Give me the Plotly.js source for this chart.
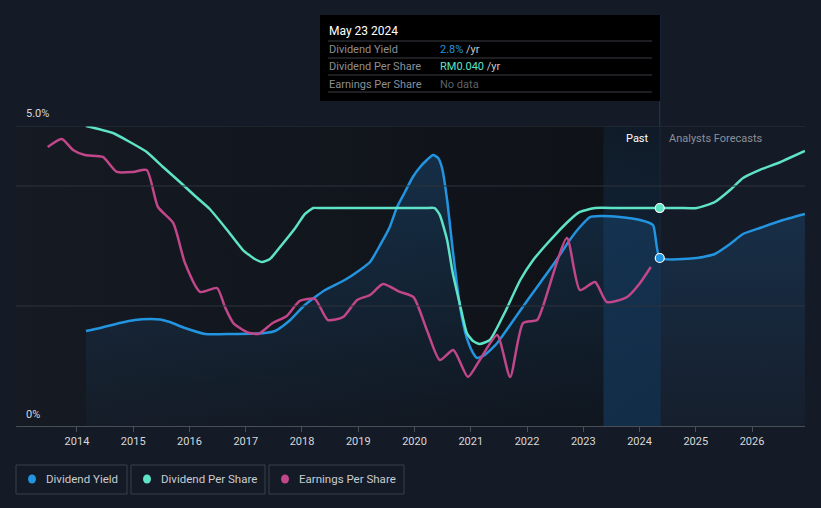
<!DOCTYPE html>
<html>
<head>
<meta charset="utf-8">
<script src="https://cdn.plot.ly/plotly-3.0.1.min.js"></script>
<style>
html,body{margin:0;padding:0;background:#151b26;}
#chart{width:821px;height:508px;}
</style>
</head>
<body>
<div id="chart"></div>
<script>
// ---- data ----
var yieldYears = [2014.16,2014.41,2014.76,2015.03,2015.30,2015.48,2015.65,2015.92,2016.28,2016.72,2017.34,2017.52,2017.66,2017.79,2018.05,2018.41,2018.76,2019.03,2019.21,2019.39,2019.56,2019.69,2019.83,2019.97,2020.10,2020.22,2020.33,2020.42,2020.49,2020.58,2020.68,2020.81,2020.93,2021.04,2021.11,2021.25,2021.47,2021.70,2022.05,2022.50,2022.76,2022.94,2023.12,2023.30,2023.65,2024.01,2024.24,2024.36,2025.02,2025.34,2025.61,2025.84,2026.14,2026.50,2026.94];
var yieldPct   = [1.583,1.633,1.717,1.767,1.783,1.775,1.733,1.633,1.533,1.533,1.55,1.583,1.667,1.767,2.017,2.267,2.433,2.6,2.733,3.017,3.317,3.65,3.9,4.15,4.317,4.433,4.517,4.467,4.3,3.767,2.933,1.983,1.467,1.217,1.133,1.183,1.383,1.683,2.15,2.733,3.1,3.317,3.483,3.5,3.483,3.433,3.35,2.8,2.8,2.867,3.033,3.2,3.3,3.417,3.533];

var dpsYears = [2014.16,2014.64,2014.94,2015.24,2015.53,2015.83,2016.10,2016.36,2016.67,2016.95,2017.16,2017.29,2017.43,2017.61,2017.88,2018.05,2018.20,2018.32,2019.0,2019.7,2020.2,2020.36,2020.45,2020.58,2020.68,2020.81,2020.93,2021.04,2021.16,2021.34,2021.61,2021.88,2022.11,2022.32,2022.53,2022.76,2022.94,2023.21,2023.6,2024.0,2024.36,2024.7,2025.02,2025.34,2025.61,2025.84,2026.14,2026.50,2026.94];
var dpsRM    = [0.05505,0.05376,0.05211,0.05028,0.04752,0.04477,0.04220,0.03982,0.03596,0.03229,0.03064,0.03009,0.03064,0.03284,0.03633,0.03890,0.04,0.04,0.04,0.04,0.04,0.04,0.03872,0.03413,0.02807,0.02220,0.01706,0.01560,0.01505,0.01578,0.02092,0.02679,0.03046,0.03303,0.03541,0.03780,0.03927,0.04,0.04,0.04,0.04,0.04,0.04,0.0411,0.0433,0.0455,0.0470,0.0484,0.05046];

var epsYears = [2013.48,2013.73,2013.93,2014.14,2014.46,2014.71,2015.0,2015.24,2015.44,2015.71,2015.92,2016.19,2016.49,2016.63,2016.78,2017.02,2017.22,2017.48,2017.73,2017.96,2018.23,2018.46,2018.73,2018.98,2019.21,2019.44,2019.74,2019.98,2020.22,2020.45,2020.69,2020.95,2021.16,2021.47,2021.70,2021.93,2022.18,2022.28,2022.71,2022.94,2023.21,2023.42,2023.78,2024.01,2024.2];
var epsRM    = [0.2325,0.2392,0.2300,0.2258,0.2242,0.2117,0.2117,0.2133,0.1825,0.1692,0.1358,0.1117,0.1150,0.0992,0.0858,0.0783,0.0767,0.0858,0.0917,0.1042,0.1058,0.0883,0.0908,0.1050,0.1092,0.1183,0.1117,0.1075,0.0800,0.0550,0.0633,0.0408,0.0550,0.0758,0.0408,0.0858,0.0883,0.0992,0.1567,0.1133,0.1200,0.1033,0.1075,0.1192,0.1325];

var yearTicks = [2014,2015,2016,2017,2018,2019,2020,2021,2022,2023,2024,2025,2026];
var tickLabels = ["2014","2015","2016","2017","2018","2019","2020","2021","2022","2023","2024","2025","2026"];

var hoverYear = 2024.36;
var hoverDate = "May 23 2024";
var hoverYield = "2.8%";
var hoverDps = "RM0.040";
var bandStart = 2023.36;

var seriesNames = ["Dividend Yield","Dividend Per Share","Earnings Per Share"];
var seriesColors = ["#2394df","#5ee3c6","#c2468a"];

// ---- geometry helpers ----
var X0 = 2012.916, X1 = 2026.942;
var PL = 16, PR = 805, PT = 126, PB = 426;
function px(x){ return (x - PL) / (PR - PL); }
function py(y){ return (PB - y) / (PB - PT); }

var traces = [];
traces.push({
  x:[X0,hoverYear,hoverYear,X0,X0], y:[0,0,5,5,0], xaxis:'x', yaxis:'y',
  mode:'lines', fill:'toself', line:{width:0,color:'rgba(0,0,0,0)'},
  fillcolor:'#11151c',
  fillgradient:{type:'horizontal', colorscale:[[0,'#151a23'],[1,'#0e1116']]},
  hoverinfo:'skip', showlegend:false
});
traces.push({
  x:[bandStart,hoverYear,hoverYear,bandStart,bandStart], y:[0,0,5,5,0], xaxis:'x', yaxis:'y',
  mode:'lines', fill:'toself', line:{width:0,color:'rgba(0,0,0,0)'},
  fillcolor:'rgba(30,110,180,0.2)',
  fillgradient:{type:'vertical', colorscale:[[0,'rgba(25,100,170,0.30)'],[1,'rgba(25,100,170,0.12)']]},
  hoverinfo:'skip', showlegend:false
});
traces.push({
  x:yieldYears, y:yieldPct, xaxis:'x', yaxis:'y', name:seriesNames[0],
  mode:'lines', line:{color:seriesColors[0], width:2.5, shape:'spline', smoothing:0.5},
  fill:'tozeroy', fillcolor:'rgba(35,148,223,0.12)',
  fillgradient:{type:'vertical', colorscale:[[0,'rgba(35,120,200,0.04)'],[1,'rgba(35,130,210,0.24)']]},
  hoverinfo:'skip', showlegend:false
});
traces.push({
  x:dpsYears, y:dpsRM, xaxis:'x', yaxis:'y2', name:seriesNames[1],
  mode:'lines', line:{color:seriesColors[1], width:2.5, shape:'spline', smoothing:0.5},
  hoverinfo:'skip', showlegend:false
});
traces.push({
  x:epsYears, y:epsRM, xaxis:'x', yaxis:'y3', name:seriesNames[2],
  mode:'lines', line:{color:seriesColors[2], width:2.5, shape:'spline', smoothing:0.6},
  hoverinfo:'skip', showlegend:false
});
traces.push({
  x:[hoverYear], y:[dpsRM[dpsYears.indexOf(hoverYear)]], xaxis:'x', yaxis:'y2',
  mode:'markers', marker:{size:9, color:seriesColors[1], line:{color:'#ffffff', width:1.2}},
  hoverinfo:'skip', showlegend:false
});
traces.push({
  x:[hoverYear], y:[yieldPct[yieldYears.indexOf(hoverYear)]], xaxis:'x', yaxis:'y',
  mode:'markers', marker:{size:9, color:seriesColors[0], line:{color:'#ffffff', width:1.2}},
  hoverinfo:'skip', showlegend:false
});

var shapes = [];
[5,4,2].forEach(function(v){
  shapes.push({type:'line', xref:'paper', yref:'y', x0:0, x1:1, y0:v, y1:v, line:{color:'#2e333c', width:1}, layer:'above'});
});
shapes.push({type:'line', xref:'x', yref:'paper', x0:hoverYear, x1:hoverYear, y0:0, y1:py(15), line:{color:'#1f3b57', width:1}, layer:'below'});
shapes.push({type:'rect', xref:'paper', yref:'paper', x0:px(320), x1:px(660), y0:py(101), y1:py(15), fillcolor:'#000000', line:{width:0}, layer:'above'});
[41,58,75,92].forEach(function(yy){
  shapes.push({type:'line', xref:'paper', yref:'paper', x0:px(328), x1:px(652), y0:py(yy), y1:py(yy), line:{color:'#3a3d42', width:1}, layer:'above'});
});
var legBoxes = [[16,127],[131,265],[269,404]];
legBoxes.forEach(function(b,i){
  shapes.push({type:'rect', xref:'paper', yref:'paper', x0:px(b[0]), x1:px(b[1]), y0:py(494), y1:py(465), fillcolor:'rgba(0,0,0,0)', line:{color:'#3b4049', width:1}, layer:'above'});
  shapes.push({type:'circle', xref:'paper', yref:'paper', x0:px(b[0]+12), x1:px(b[0]+20), y0:py(483.5), y1:py(474.5), fillcolor:seriesColors[i], line:{width:0}, layer:'above'});
});

var annotations = [];
function ann(text, x, y, opts){
  var a = {text:text, xref:'paper', yref:'paper', x:px(x), y:py(y), showarrow:false, xanchor:'left', yanchor:'middle',
    font:{family:'Roboto, sans-serif', size:11, color:'#d6d8db'}};
  for (var k in opts){ a[k]=opts[k]; }
  return a;
}
annotations.push(ann('5.0%', 24, 114, {}));
annotations.push(ann('0%', 24, 414, {}));
annotations.push(ann('Past', 651, 138, {xanchor:'right', font:{family:'Roboto, sans-serif', size:11, color:'#ffffff'}}));
annotations.push(ann('Analysts Forecasts', 667, 138, {font:{family:'Roboto, sans-serif', size:11, color:'#8b9099'}}));
annotations.push(ann(hoverDate, 327, 31, {font:{family:'Roboto, sans-serif', size:12, color:'#ffffff'}}));
var rowLabel = {family:'Roboto, sans-serif', size:11, color:'#8b8f96'};
annotations.push(ann(seriesNames[0], 327, 49, {font:rowLabel}));
annotations.push(ann(seriesNames[1], 327, 66.5, {font:rowLabel}));
annotations.push(ann(seriesNames[2], 327, 84, {font:rowLabel}));
annotations.push(ann('<span style="color:'+seriesColors[0]+'">'+hoverYield+'</span> /yr', 438, 49, {font:{family:'Roboto, sans-serif', size:11, color:'#c8cacd'}}));
annotations.push(ann('<span style="color:'+seriesColors[1]+'">'+hoverDps+'</span> /yr', 438, 66.5, {font:{family:'Roboto, sans-serif', size:11, color:'#c8cacd'}}));
annotations.push(ann('No data', 438, 84, {font:{family:'Roboto, sans-serif', size:11, color:'#5e6167'}}));
legBoxes.forEach(function(b,i){
  annotations.push(ann(seriesNames[i], b[0]+28, 479.5, {font:{family:'Roboto, sans-serif', size:11.5, color:'#c9ccd1'}}));
});

var layout = {
  width:821, height:508,
  paper_bgcolor:'#151b26', plot_bgcolor:'rgba(0,0,0,0)',
  margin:{l:PL, r:821-PR, t:PT, b:508-PB, pad:0},
  showlegend:false,
  xaxis:{range:[X0,X1], tickmode:'array', tickvals:yearTicks, ticktext:tickLabels,
    ticks:'outside', ticklen:5, tickcolor:'#4a4f57', showgrid:false, zeroline:false,
    showline:true, linecolor:'#4a4f57', linewidth:1,
    tickfont:{family:'Roboto, sans-serif', size:11, color:'#d6d8db'}, fixedrange:true},
  yaxis:{range:[0,5], visible:false, showgrid:false, zeroline:false, fixedrange:true},
  yaxis2:{range:[0,0.05505], overlaying:'y', visible:false, showgrid:false, zeroline:false},
  yaxis3:{range:[0,0.25], overlaying:'y', visible:false, showgrid:false, zeroline:false},
  shapes:shapes, annotations:annotations
};

Plotly.newPlot('chart', traces, layout, {staticPlot:true, displayModeBar:false});
</script>
</body>
</html>
